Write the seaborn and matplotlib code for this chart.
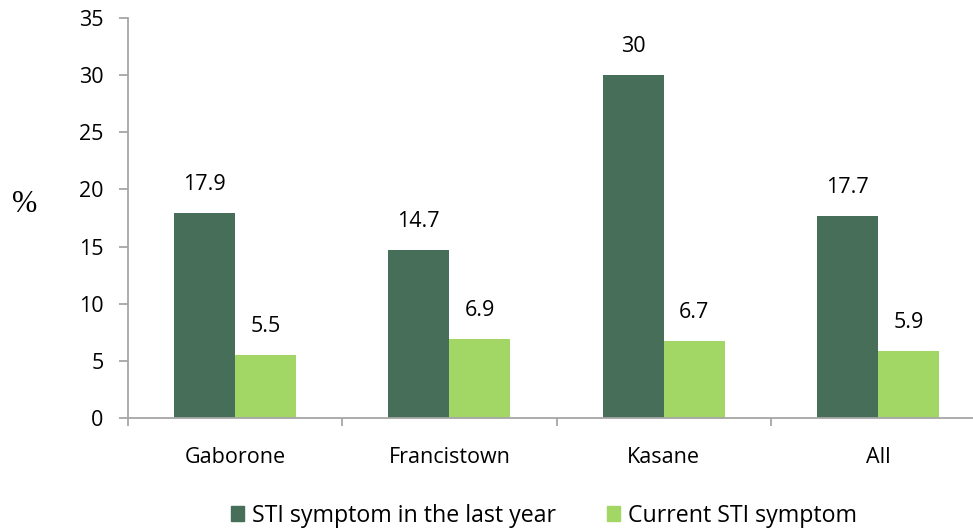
import pandas as pd
import seaborn as sns
import matplotlib.pyplot as plt
from matplotlib.ticker import FixedLocator

# Data
sites = ["Gaborone", "Francistown", "Kasane", "All"]
last_year = [17.9, 14.7, 30, 17.7]
current = [5.5, 6.9, 6.7, 5.9]
series_names = ["STI symptom in the last year", "Current STI symptom"]
value_labels = [["17.9", "14.7", "30", "17.7"], ["5.5", "6.9", "6.7", "5.9"]]

DARK = "#476E58"
LIGHT = "#A2D665"
GREY = "#A6A6A6"

sns.set_theme(style="white")
plt.rcParams['font.family'] = ['Open Sans', 'DejaVu Sans']
plt.rcParams['text.color'] = 'black'

df = pd.DataFrame({
    "site": sites * 2,
    "value": last_year + current,
    "series": [series_names[0]] * 4 + [series_names[1]] * 4,
})

fig = plt.figure(figsize=(9.73, 5.29), dpi=100)
ax = fig.add_axes([128 / 973, 111 / 529, 857 / 973, 400 / 529])

sns.barplot(data=df, x="site", y="value", hue="series", order=sites,
            hue_order=series_names, palette=[DARK, LIGHT], width=0.57,
            saturation=1, gap=0, linewidth=0, ax=ax, legend=False)

# Value labels above bars
for container, labels in zip(ax.containers, value_labels):
    ax.bar_label(container, labels=labels, padding=13, fontsize=15.5,
                 color="black")

ax.set_xlim(-0.5, 3.5)
ax.set_ylim(0, 35)
ax.set_yticks(range(0, 36, 5))
ax.set_xlabel("")
ax.set_ylabel("")
ax.text(-0.121, 0.535, "%", transform=ax.transAxes, ha="center", va="center",
        fontsize=22, color="black", fontfamily="Liberation Serif")

for side in ["top", "right"]:
    ax.spines[side].set_visible(False)
for side in ["left", "bottom"]:
    ax.spines[side].set_color(GREY)
    ax.spines[side].set_linewidth(1.3)

ax.tick_params(axis="y", which="major", left=True, length=6.5, width=1.3,
               color=GREY, labelcolor="black", labelsize=15.5, pad=11)
ax.tick_params(axis="x", which="major", length=0, labelcolor="black",
               labelsize=15.5, pad=21)
ax.xaxis.set_minor_locator(FixedLocator([-0.5, 0.5, 1.5, 2.5, 3.5]))
ax.tick_params(axis="x", which="minor", bottom=True, length=6, width=1.3,
               color=GREY)

# Legend at the bottom
handles = [plt.Rectangle((0, 0), 1, 1, color=c) for c in (DARK, LIGHT)]
fig.legend(handles, series_names, loc="center", ncol=2, frameon=False,
           fontsize=16.7, handlelength=0.56, handleheight=0.6, handletextpad=0.34,
           columnspacing=2.2, bbox_to_anchor=(0.559, 0.025), labelcolor="black")

fig.savefig("out.png", dpi=100)
